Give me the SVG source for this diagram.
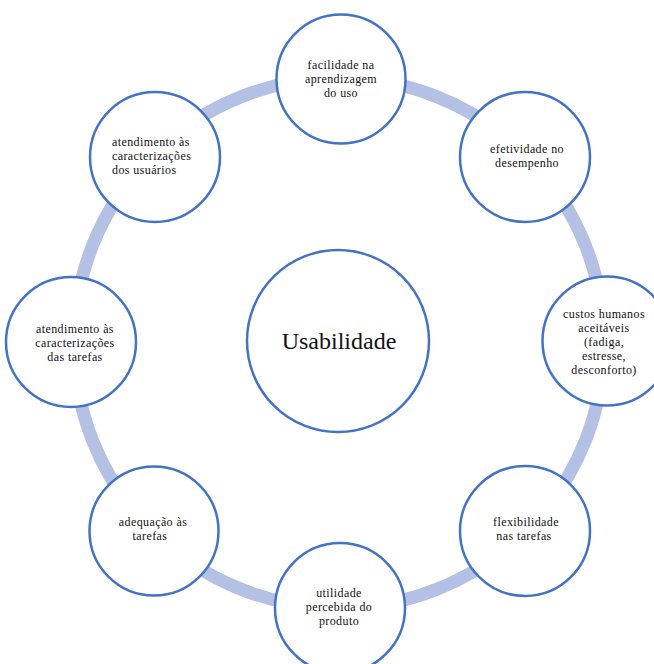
<svg xmlns="http://www.w3.org/2000/svg" width="654" height="664" viewBox="0 0 654 664">
<style>
.ring{fill:none;stroke:#b4c1e5;stroke-width:13}
.node circle{fill:#fff;stroke:#4472c4;stroke-width:2.5}
.node text{font-family:"Liberation Serif","Times New Roman",serif;font-size:12px;letter-spacing:0.4px;fill:#111;text-anchor:middle}
.node text.big{font-size:24px;letter-spacing:0}
.node text.l{text-anchor:start}
</style>
<rect width="654" height="664" fill="#fff"/>
<g id="connectors">
<circle class="ring" cx="339" cy="343" r="265"/>
</g>
<g id="center" class="node">
<circle cx="338" cy="341" r="91"/>
<text class="big" x="339" y="349">Usabilidade</text>
</g>
<g id="n-top" class="node">
<circle cx="341" cy="79" r="64.5"/>
<text x="341" y="69">facilidade na</text>
<text x="341" y="83">aprendizagem</text>
<text x="341" y="97">do uso</text>
</g>
<g id="n-topright" class="node">
<circle cx="525" cy="157" r="65"/>
<text x="527" y="153">efetividade no</text>
<text x="527" y="167">desempenho</text>
</g>
<g id="n-right" class="node">
<circle cx="607" cy="341" r="64.5"/>
<text x="604" y="318">custos humanos</text>
<text x="604" y="332">aceitáveis</text>
<text x="604" y="346">(fadiga,</text>
<text x="604" y="360">estresse,</text>
<text x="604" y="374">desconforto)</text>
</g>
<g id="n-bottomright" class="node">
<circle cx="525" cy="531" r="65"/>
<text x="526" y="526">flexibilidade</text>
<text x="524" y="540">nas tarefas</text>
</g>
<g id="n-bottom" class="node">
<circle cx="340" cy="608" r="65"/>
<text x="339" y="597">utilidade</text>
<text x="339" y="611">percebida do</text>
<text x="339" y="625">produto</text>
</g>
<g id="n-bottomleft" class="node">
<circle cx="154" cy="531" r="64.5"/>
<text x="153" y="526">adequação às</text>
<text x="150" y="540">tarefas</text>
</g>
<g id="n-left" class="node">
<circle cx="71" cy="342" r="65"/>
<text x="75" y="333">atendimento às</text>
<text x="75" y="347">caracterizações</text>
<text x="75" y="361">das tarefas</text>
</g>
<g id="n-topleft" class="node">
<circle cx="155" cy="157" r="65"/>
<text class="l" x="112" y="146">atendimento às</text>
<text class="l" x="112" y="160">caracterizações</text>
<text class="l" x="112" y="174">dos usuários</text>
</g>
</svg>
